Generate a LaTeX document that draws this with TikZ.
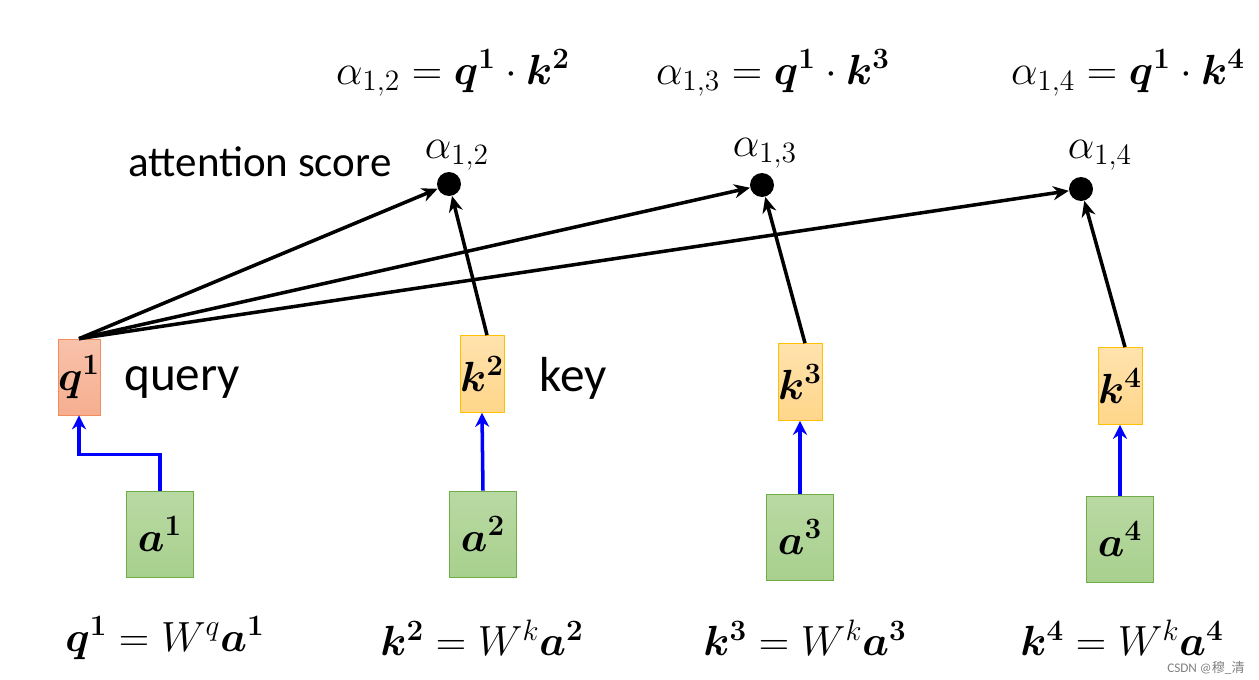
\documentclass[tikz,border=0pt]{standalone}
\usepackage{fix-cm}
\usepackage{amsmath,amssymb}
\usepackage{fontspec}
\setmainfont{Carlito}
\newfontfamily\cjk{Noto Sans CJK SC}
\usepackage{xcolor}
\usepackage{tikz}
\usetikzlibrary{arrows.meta}

\definecolor{qfill}{HTML}{F6AE8F}
\definecolor{qline}{HTML}{F08C5E}
\definecolor{kfill}{HTML}{FFD68A}
\definecolor{kline}{HTML}{FFC000}
\definecolor{afill}{HTML}{A8D08D}
\definecolor{aline}{HTML}{70AD47}

\tikzset{
    qbox/.style={draw=qline, top color=qfill!75!white, bottom color=qfill, minimum width=0.84cm, minimum height=1.52cm, inner sep=0pt},
    kbox/.style={draw=kline, top color=kfill!70!white, bottom color=kfill, minimum width=0.84cm, minimum height=1.54cm, inner sep=0pt},
    abox/.style={draw=aline, top color=afill!80!white, bottom color=afill, minimum width=1.34cm, minimum height=1.72cm, inner sep=0pt},
    score/.style={circle, fill=black, minimum size=0.48cm, inner sep=0pt},
    big/.style={font=\fontsize{24}{28}\selectfont},
    mid/.style={font=\fontsize{24.5}{28}\selectfont},
    bigger/.style={font=\fontsize{28}{32}\selectfont},
    karrow/.style={-{Stealth[length=9pt,width=8pt]}, line width=2pt},
    barrow/.style={-{Stealth[length=8pt,width=8pt]}, line width=2pt, blue}
}

\begin{document}
\begin{tikzpicture}[x=0.02cm, y=-0.02cm]
            \useasboundingbox (0,0) rectangle (1259,680);

            % query
            \node[qbox, big] (q1) at (79,377) {$\boldsymbol{q^{1}}$};
            \node[bigger, anchor=west] (query) at (118,383) {query};
            \node[abox, big] (a1) at (160,534) {$\boldsymbol{a^{1}}$};
            \draw[barrow] (a1.north) -- ++(0,-36) -| (q1.south);

            % keys
            \foreach \i/\x/\y/\s/\ax/\ay in {2/482/374/449/483/534, 3/800/382/762/800/537, 4/1120/386/1081/1120/539} {
                    \node[kbox, big] (k\i) at (\x,\y) {$\boldsymbol{k^{\i}}$};
                    \node[abox, big] (a\i) at (\ax,\ay) {$\boldsymbol{a^{\i}}$};
                    \draw[barrow] (a\i.north) -- (k\i.south);
                }
            \node[bigger, anchor=west] (key) at (533,378) {key};

            % attention scores
            \node[score] (s2) at (449,184) {};
            \node[score] (s3) at (762,185) {};
            \node[score] (s4) at (1081,189) {};
            \node[big] (l2) at (457,155) {$\alpha_{1,2}$};
            \node[big] (l3) at (765,153) {$\alpha_{1,3}$};
            \node[big] (l4) at (1100,155) {$\alpha_{1,4}$};
            \node[mid] (att) at (260,162) {attention score};

            \foreach \i in {2,3,4} {
                    \draw[karrow] (q1.north) -- (s\i);
                    \draw[karrow] ([xshift=0.1cm]k\i.north) -- (s\i);
                }

            % formulas
            \node[big] (f2) at (453,73) {$\alpha_{1,2}=\boldsymbol{q^{1}}\cdot\boldsymbol{k^{2}}$};
            \node[big] (f3) at (773,73) {$\alpha_{1,3}=\boldsymbol{q^{1}}\cdot\boldsymbol{k^{3}}$};
            \node[big] (f4) at (1128,73) {$\alpha_{1,4}=\boldsymbol{q^{1}}\cdot\boldsymbol{k^{4}}$};

            \node[big] (e1) at (165,638) {$\boldsymbol{q^{1}}=W^{q}\boldsymbol{a^{1}}$};
            \node[big] (e2) at (482,638) {$\boldsymbol{k^{2}}=W^{k}\boldsymbol{a^{2}}$};
            \node[big] (e3) at (805,638) {$\boldsymbol{k^{3}}=W^{k}\boldsymbol{a^{3}}$};
            \node[big] (e4) at (1122,638) {$\boldsymbol{k^{4}}=W^{k}\boldsymbol{a^{4}}$};

            \node[gray, font=\fontsize{7.5}{9}\selectfont] (mark) at (1206,668) {CSDN @{\cjk 穆}\_{\cjk 清}};

        \end{tikzpicture}
\end{document}
